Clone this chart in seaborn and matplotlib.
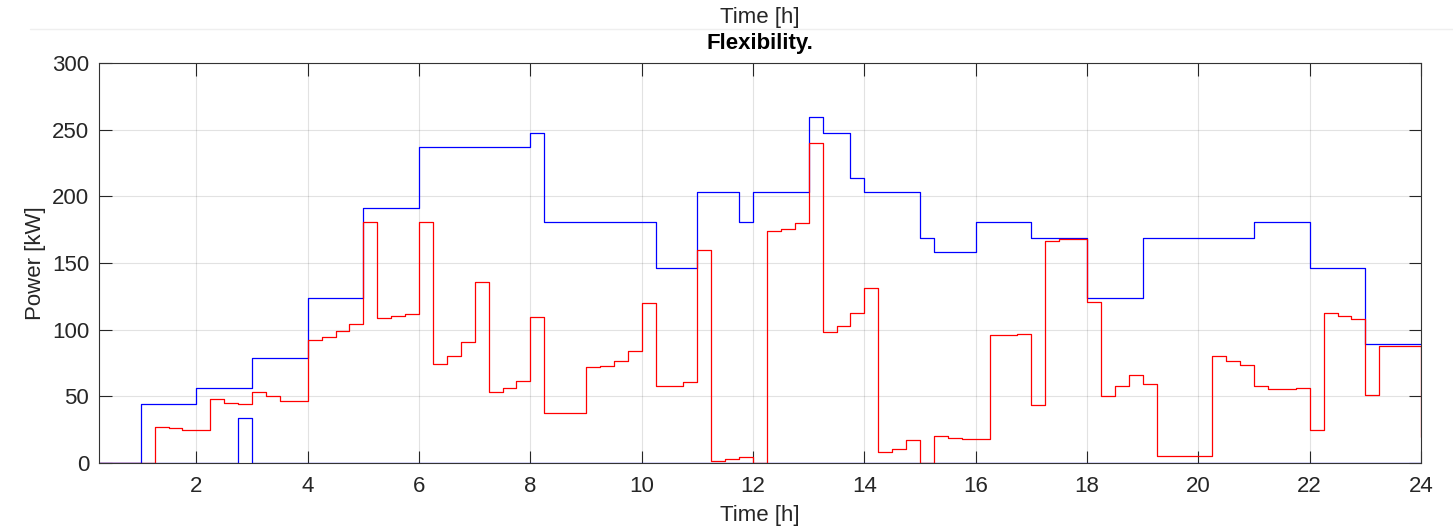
import numpy as np
import pandas as pd
import matplotlib
matplotlib.use("Agg")
import matplotlib.pyplot as plt
from matplotlib.lines import Line2D
import seaborn as sns

# ---- data (15-min resolution, x = 0.25 ... 24 h) ----
time_h = np.arange(1, 97) * 0.25

flex_max = ([0, 0, 0]
            + [44.5] * 4 + [56.5] * 4 + [79] * 4 + [123.5] * 4 + [191.5] * 4
            + [237] * 4 + [237] * 4
            + [247.5, 180.5, 180.5, 180.5] + [180.5] * 4
            + [180.5, 146, 146, 146] + [203.5, 203.5, 203.5, 180.5]
            + [203.5] * 4 + [259.5, 247.5, 247.5, 214] + [203.5] * 4
            + [169, 158, 158, 158] + [180.5] * 4 + [169] * 4 + [123.5] * 4
            + [169] * 4 + [169] * 4 + [180.5] * 4 + [146] * 4 + [89.5] * 4
            + [89.5])

flex_min = [0.0] * 96
flex_min[10] = 33.5  # 2.75 h

flex_actual = ([0, 0, 0]
               + [0, 27, 26, 25]
               + [25, 48, 45.3, 44.3]
               + [53.6, 50, 46.8, 46.8]
               + [92.6, 94.3, 99.3, 104.4]
               + [180.4, 109.1, 109.9, 111.6]
               + [180.4, 74.3, 80.6, 90.8]
               + [136.1, 53.6, 56.3, 61.8]
               + [109.6, 37.3, 37.3, 37.3]
               + [71.8, 73.1, 76.3, 83.8]
               + [119.9, 57.6, 58.1, 60.6]
               + [159.4, 1.75, 2.75, 4.25]
               + [0, 174.2, 175.2, 179.7]
               + [239.7, 98.1, 102.4, 112.6]
               + [131.4, 8.3, 10.8, 17.0]
               + [0, 20.0, 19.0, 18.0]
               + [18.0, 95.8, 96.3, 97.1]
               + [43.5, 166.7, 167.9, 167.9]
               + [120.6, 50.0, 58.1, 66.3]
               + [59.1, 5.5, 5.5, 5.5]
               + [5.5, 80.6, 76.3, 73.6]
               + [57.6, 55.6, 55.6, 56.3]
               + [24.5, 112.6, 109.9, 108.1]
               + [50.8, 88.1, 88.1, 88.1]
               + [19.3])

x_ticks = list(range(2, 25, 2))
y_ticks = [0, 50, 100, 150, 200, 250, 300]

# ---- style ----
sns.set_theme(style="white")
plt.rcParams['font.family'] = ['Liberation Sans', 'DejaVu Sans']
text_col = '#262626'
fs = 16

fig = plt.figure(figsize=(14.53, 5.31), dpi=100)
ax = fig.add_axes([99 / 1453, 1 - 463 / 531, (1421 - 99) / 1453, (463 - 63) / 531])

df = pd.DataFrame({'t': time_h, 'max': flex_max, 'min': flex_min, 'act': flex_actual})
sns.lineplot(data=df, x='t', y='max', ax=ax, color='#0000ff', lw=0.9,
             drawstyle='steps-post', estimator=None, sort=False)
sns.lineplot(data=df, x='t', y='min', ax=ax, color='#0000ff', lw=0.9,
             drawstyle='steps-post', estimator=None, sort=False)
sns.lineplot(data=df, x='t', y='act', ax=ax, color='#ff0000', lw=0.9,
             drawstyle='steps-post', estimator=None, sort=False)

ax.set_xlim(0.25, 24)
ax.set_ylim(0, 300)
ax.set_xticks(x_ticks)
ax.set_yticks(y_ticks)
ax.tick_params(axis='both', direction='in', length=9, width=0.8, colors=text_col,
               labelsize=fs, top=True, right=True, bottom=True, left=True, pad=7)
ax.tick_params(axis='x', pad=9)
ax.grid(True, color='#262626', alpha=0.13, lw=0.8)
for s in ax.spines.values():
    s.set_visible(True)
    s.set_color('#333333')
    s.set_linewidth(0.8)

ax.set_xlabel('Time [h]', fontsize=fs, color=text_col, labelpad=6)
ax.set_ylabel('Power [kW]', fontsize=fs, color=text_col, labelpad=4)
ax.set_title('Flexibility.', fontsize=fs, fontweight='bold', color='black', pad=10)

fig.text(760 / 1453, 1 - 17 / 531, 'Time [h]', ha='center', va='center',
         fontsize=fs, color=text_col)
fig.add_artist(Line2D([30 / 1453, 1.0], [1 - 29 / 531, 1 - 29 / 531],
                      transform=fig.transFigure, color='#efefef', lw=1))

fig.savefig('out.png', dpi=100)
